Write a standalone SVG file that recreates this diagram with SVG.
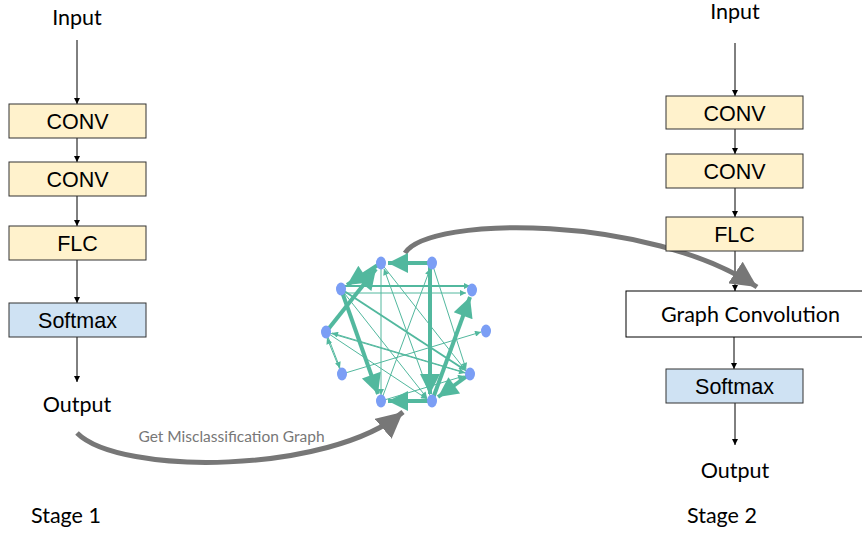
<svg xmlns="http://www.w3.org/2000/svg" width="862" height="533" viewBox="0 0 862 533">
<style>
.lbl{font-family:Lato,"Liberation Sans",sans-serif;font-size:21.5px;fill:#000;text-anchor:middle}
.box{font-family:"Liberation Sans",Arial,sans-serif;font-size:21.5px;fill:#000;text-anchor:middle}
.y{fill:#FFF2CC;stroke:#333;stroke-width:1}
.b{fill:#CFE2F3;stroke:#333;stroke-width:1}
.w{fill:#fff;stroke:#000;stroke-width:1}
.c{stroke:#000;stroke-width:1;fill:none;marker-end:url(#a)}
.g{stroke:#777;stroke-width:5;fill:none;marker-end:url(#ga)}
.e{stroke:#52B89E;fill:none}
.t{stroke-width:1;marker-end:url(#et)}
.k{stroke-width:4;marker-end:url(#ek)}
.m{stroke-width:2;marker-end:url(#et)}
.n{fill:#7B9EF5}
</style>
<defs>
<marker id="a" viewBox="0 0 10 10" refX="10" refY="5" markerWidth="6" markerHeight="7" markerUnits="userSpaceOnUse" orient="auto"><path d="M0,0L10,5L0,10z" fill="#000"/></marker>
<marker id="ga" viewBox="0 0 10 10" refX="10" refY="5" markerWidth="26" markerHeight="26" markerUnits="userSpaceOnUse" orient="auto"><path d="M0,0L10,5L0,10z" fill="#777"/></marker>
<marker id="et" viewBox="0 0 10 10" refX="10" refY="5" markerWidth="7" markerHeight="6" markerUnits="userSpaceOnUse" orient="auto"><path d="M0,0L10,5L0,10z" fill="#52B89E"/></marker>
<marker id="ek" viewBox="0 0 10 10" refX="10" refY="5" markerWidth="24" markerHeight="20" markerUnits="userSpaceOnUse" orient="auto"><path d="M0,0L10,5L0,10z" fill="#52B89E"/></marker>
</defs>

<g id="connectors">
<line class="c" x1="77" y1="40" x2="77" y2="104"/>
<line class="c" x1="77" y1="138" x2="77" y2="162"/>
<line class="c" x1="77" y1="196" x2="77" y2="226"/>
<line class="c" x1="77" y1="260" x2="77" y2="303"/>
<line class="c" x1="77" y1="337" x2="77" y2="382"/>
<line class="c" x1="735" y1="43" x2="735" y2="96"/>
<line class="c" x1="735" y1="129" x2="735" y2="154"/>
<line class="c" x1="735" y1="188" x2="735" y2="217"/>
<line class="c" x1="735" y1="251" x2="735" y2="291"/>
<line class="c" x1="734" y1="337" x2="734" y2="369"/>
<line class="c" x1="735" y1="403" x2="735" y2="445"/>
<path class="g" d="M77,433 C120,476 330,474 403,412"/>
<path class="g" d="M405,253 C430,215 650,215 757,287"/>
</g>
<text x="231.5" y="442" style="font-family:Lato,'Liberation Sans',sans-serif;font-size:15.5px;fill:#777;text-anchor:middle">Get Misclassification Graph</text>

<g id="graph">
<line class="e t" x1="381" y1="263" x2="466" y2="371"/>
<line class="e t" x1="432" y1="263" x2="466" y2="369"/>
<line class="e t" x1="326" y1="332" x2="465" y2="373"/>
<line class="e t" x1="342" y1="374" x2="481" y2="332"/>
<line class="e t" x1="381" y1="401" x2="430" y2="269"/>
<line class="e t" x1="432" y1="401" x2="384" y2="269"/>
<line class="e t" x1="326" y1="332" x2="427" y2="399"/>
<line class="e t" x1="381" y1="263" x2="381" y2="395"/>
<line class="e t" x1="328" y1="337" x2="340" y2="368"/>
<line class="e t" x1="340" y1="370" x2="327" y2="338"/>
<line class="e t" x1="341" y1="289" x2="427" y2="398"/>
<line class="e t" x1="470" y1="374" x2="332" y2="333"/>
<line class="e t" x1="381" y1="401" x2="464" y2="376"/>
<line class="e t" x1="341" y1="293" x2="466" y2="293"/>
<line class="e m" x1="341" y1="286" x2="470" y2="286"/>
<line class="e m" x1="341" y1="289" x2="465" y2="370"/>
<line class="e k" x1="432" y1="263" x2="388" y2="263"/>
<line class="e k" x1="326" y1="332" x2="376" y2="269"/>
<line class="e k" x1="381" y1="263" x2="347" y2="285"/>
<line class="e k" x1="341" y1="289" x2="378" y2="394"/>
<line class="e k" x1="430" y1="263" x2="430" y2="394"/>
<line class="e k" x1="432" y1="401" x2="388" y2="401"/>
<line class="e k" x1="432" y1="401" x2="470" y2="297"/>
<line class="e k" x1="470" y1="374" x2="438" y2="397"/>
<ellipse class="n" cx="381" cy="263" rx="5" ry="6.5"/>
<ellipse class="n" cx="432" cy="263" rx="5" ry="6.5"/>
<ellipse class="n" cx="341" cy="289" rx="5" ry="6.5"/>
<ellipse class="n" cx="472" cy="290" rx="5" ry="6.5"/>
<ellipse class="n" cx="326" cy="332" rx="5" ry="6.5"/>
<ellipse class="n" cx="486" cy="331" rx="5" ry="6.5"/>
<ellipse class="n" cx="342" cy="374" rx="5" ry="6.5"/>
<ellipse class="n" cx="470" cy="374" rx="5" ry="6.5"/>
<ellipse class="n" cx="381" cy="401" rx="5" ry="6.5"/>
<ellipse class="n" cx="432" cy="401" rx="5" ry="6.5"/>
</g>

<g id="input1"><text class="lbl" x="77" y="25">Input</text></g>
<g id="conv1a"><rect class="y" x="9" y="104" width="137" height="34"/><text class="box" x="77.5" y="129">CONV</text></g>
<g id="conv1b"><rect class="y" x="9" y="162" width="137" height="34"/><text class="box" x="77.5" y="187">CONV</text></g>
<g id="flc1"><rect class="y" x="9" y="226" width="137" height="34"/><text class="box" x="77.5" y="251">FLC</text></g>
<g id="softmax1"><rect class="b" x="9" y="303" width="137" height="34"/><text class="box" x="77.5" y="328">Softmax</text></g>
<g id="output1"><text class="lbl" x="77" y="412">Output</text></g>
<g id="stage1"><text class="lbl" x="66" y="523">Stage 1</text></g>

<g id="input2"><text class="lbl" x="735" y="19">Input</text></g>
<g id="conv2a"><rect class="y" x="666" y="96" width="137" height="33"/><text class="box" x="734.5" y="120.5">CONV</text></g>
<g id="conv2b"><rect class="y" x="666" y="154" width="137" height="34"/><text class="box" x="734.5" y="179">CONV</text></g>
<g id="flc2"><rect class="y" x="666" y="217" width="137" height="34"/><text class="box" x="734.5" y="242">FLC</text></g>
<g id="graphconv"><rect class="w" x="626" y="291" width="245" height="46"/><text class="lbl" x="750.5" y="322">Graph Convolution</text></g>
<g id="softmax2"><rect class="b" x="666" y="369" width="137" height="34"/><text class="box" x="734.5" y="394">Softmax</text></g>
<g id="output2"><text class="lbl" x="735" y="478">Output</text></g>
<g id="stage2"><text class="lbl" x="722" y="523">Stage 2</text></g>
</svg>
